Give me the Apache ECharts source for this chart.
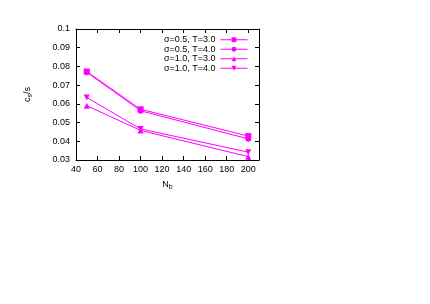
<!DOCTYPE html>
<html>
<head>
<meta charset="utf-8">
<script src="https://cdn.jsdelivr.net/npm/echarts@6/dist/echarts.min.js"></script>
<style>
  html, body { margin: 0; padding: 0; background: #fff; }
  #chart { width: 430px; height: 304px; }
</style>
</head>
<body>
<div id="chart"></div>
<script>
// Datos
const nbValues = [50, 100, 200];
const seriesNames = ['σ=0.5, T=3.0', 'σ=0.5, T=4.0', 'σ=1.0, T=3.0', 'σ=1.0, T=4.0'];
const s05T3 = [0.0773, 0.0571, 0.0428];
const s05T4 = [0.0769, 0.0563, 0.0413];
const s10T3 = [0.0590, 0.0458, 0.0318];
const s10T4 = [0.0634, 0.0466, 0.0342];
const symbols = ['rect', 'circle', 'triangle', 'path://M0,0 L10,0 L5,9 Z'];
const symbolSizes = [6, 6, 6, 6];

const allValues = [s05T3, s05T4, s10T3, s10T4];
const magenta = '#ff00ff';
const font = 'Liberation Sans, Arial, sans-serif';

const chart = echarts.init(document.getElementById('chart'));

const option = {
    backgroundColor: '#ffffff',
    animation: false,
    grid: { left: 76, right: 171, top: 29, bottom: 144 },
    legend: {
        orient: 'vertical',
        right: 177,
        top: 30,
        align: 'right',
        itemWidth: 27,
        itemHeight: 6,
        itemGap: 0,
        itemStyle: { color: magenta, borderWidth: 0 },
        lineStyle: { color: magenta, width: 1 },
        textStyle: { fontSize: 9, lineHeight: 9.5, fontFamily: font, color: '#000' },
        data: seriesNames
    },
    xAxis: [{
        type: 'value',
        min: 40,
        max: 210,
        interval: 20,
        name: '{n|N}{sub|b}',
        nameLocation: 'middle',
        nameGap: 18,
        nameTextStyle: {
            rich: {
                n: { fontSize: 9, fontFamily: font, color: '#000' },
                sub: { fontSize: 7, fontFamily: font, color: '#000', verticalAlign: 'bottom', padding: [6, 0, 0, 0] }
            }
        },
        axisLine: { show: true, lineStyle: { color: '#000', width: 1 } },
        axisTick: { show: true, inside: true, length: 4, lineStyle: { color: '#000' } },
        axisLabel: {
            fontSize: 9, fontFamily: font, color: '#000', margin: 5,
            formatter: function (v) { return v > 200 ? '' : String(v); }
        },
        splitLine: { show: false }
    }, {
        type: 'value',
        position: 'top',
        min: 40,
        max: 210,
        interval: 20,
        axisLine: { show: true, lineStyle: { color: '#000', width: 1 } },
        axisTick: { show: true, inside: true, length: 4, lineStyle: { color: '#000' } },
        axisLabel: { show: false },
        splitLine: { show: false }
    }],
    yAxis: [{
        type: 'value',
        min: 0.03,
        max: 0.1,
        interval: 0.01,
        name: '{c|c}{sub|s}{c|/s}',
        nameLocation: 'middle',
        nameRotate: 90,
        nameGap: 42,
        nameTextStyle: {
            rich: {
                c: { fontSize: 9, fontFamily: font, color: '#000' },
                sub: { fontSize: 7, fontFamily: font, color: '#000', verticalAlign: 'bottom', padding: [6, 0, 0, 0] }
            }
        },
        axisLine: { show: true, lineStyle: { color: '#000', width: 1 } },
        axisTick: { show: true, inside: true, length: 4, lineStyle: { color: '#000' } },
        axisLabel: {
            fontSize: 9, fontFamily: font, color: '#000', margin: 6,
            formatter: function (v) { return String(Math.round(v * 100) / 100); }
        },
        splitLine: { show: false }
    }, {
        type: 'value',
        position: 'right',
        min: 0.03,
        max: 0.1,
        interval: 0.01,
        axisLine: { show: true, lineStyle: { color: '#000', width: 1 } },
        axisTick: { show: true, inside: true, length: 4, lineStyle: { color: '#000' } },
        axisLabel: { show: false },
        splitLine: { show: false }
    }],
    series: seriesNames.map(function (name, i) {
        return {
            name: name,
            type: 'line',
            xAxisIndex: 0,
            yAxisIndex: 0,
            data: nbValues.map(function (x, j) { return [x, allValues[i][j]]; }),
            symbol: symbols[i],
            symbolSize: symbolSizes[i],
            showAllSymbol: true,
            lineStyle: { color: magenta, width: 1 },
            itemStyle: { color: magenta, borderWidth: 0 }
        };
    })
};

chart.setOption(option);
</script>
</body>
</html>
